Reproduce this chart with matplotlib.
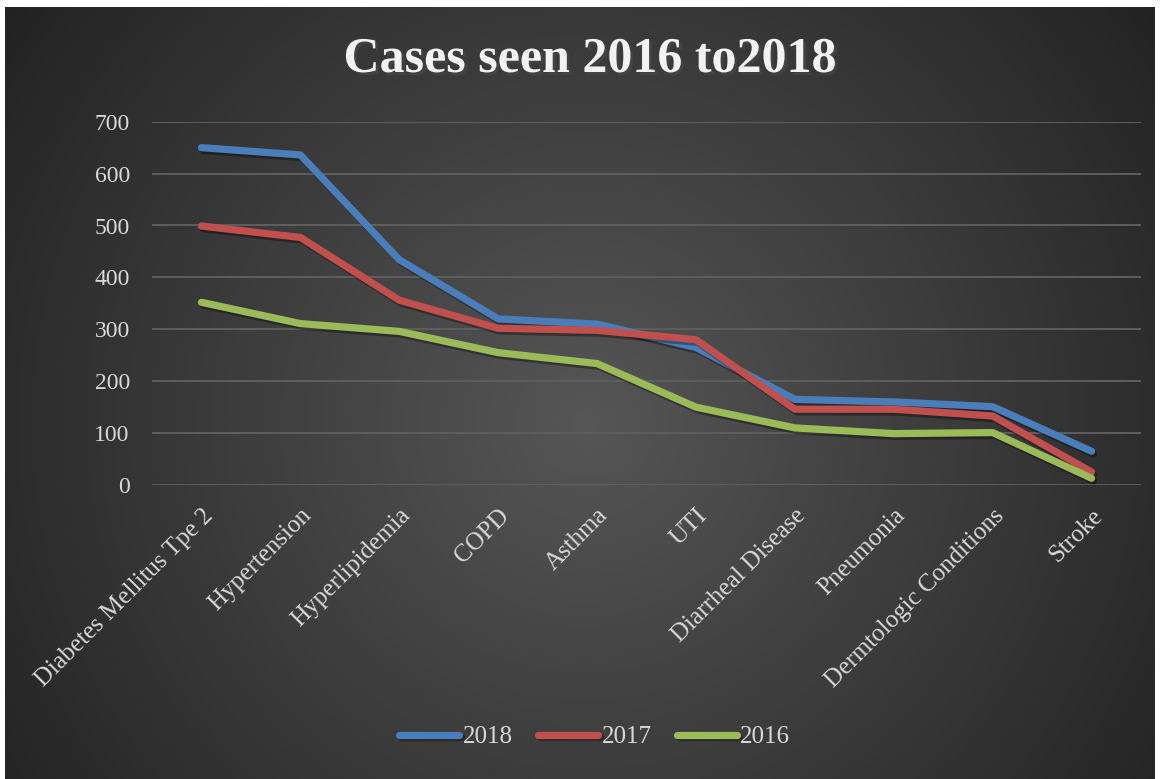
import numpy as np
import matplotlib
matplotlib.use("Agg")
import matplotlib.pyplot as plt
import matplotlib.patheffects as pe

categories = ["Diabetes Mellitus Tpe 2", "Hypertension", "Hyperlipidemia", "COPD",
              "Asthma", "UTI", "Diarrheal Disease", "Pneumonia",
              "Dermtologic Conditions", "Stroke"]
cases_2018 = [650, 636, 434, 320, 310, 265, 165, 160, 151, 65]
cases_2017 = [499, 477, 356, 302, 298, 280, 146, 146, 133, 25]
cases_2016 = [352, 311, 296, 255, 234, 150, 110, 99, 101, 13]
years = ["2018", "2017", "2016"]
colors = ["#4A7EBB", "#C0504D", "#9BBB59"]

W, H = 1166, 779
fig = plt.figure(figsize=(W / 100, H / 100), dpi=100, facecolor="white")

# radial gradient background
bg = fig.add_axes([5 / W, 0, 1150 / W, 772 / H])
yy, xx = np.mgrid[0:772, 0:1150]
d = np.sqrt((xx - 580) ** 2 + (yy - 415) ** 2)
val = 86 - 52 * np.clip(d / 720, 0, 1)
img = np.dstack([val, val, val]) / 255
bg.imshow(img, aspect="auto", interpolation="bilinear")
bg.axis("off")

ax = fig.add_axes([152 / W, 1 - 485 / H, (1141 - 152) / W, (485 - 121.7) / H])
ax.patch.set_alpha(0)

font = "Liberation Serif"
txt = "#D9D9D9"
x = np.arange(len(categories))
for vals, lab, c in zip([cases_2018, cases_2017, cases_2016], years, colors):
    ax.plot(x, vals, color=c, lw=5.2, label=lab, solid_capstyle="round",
            solid_joinstyle="round",
            path_effects=[pe.SimpleLineShadow(offset=(1.5, -2), alpha=0.35),
                          pe.Normal()])

ax.set_xlim(-0.5, len(categories) - 0.5)
ax.set_ylim(0, 700)
ax.set_yticks(range(0, 701, 100))
ax.grid(axis="y", color="#5E5E5E", lw=1.4)
ax.set_axisbelow(True)
for s in ax.spines.values():
    s.set_visible(False)
ax.tick_params(length=0, colors=txt)
ax.tick_params(axis="y", pad=16)
ax.set_xticks(x)
ax.set_xticklabels(categories, rotation=45, ha="right", rotation_mode="anchor",
                   fontfamily=font, fontsize=18, color=txt)
ax.tick_params(axis="x", pad=14)
for t in ax.get_yticklabels():
    t.set_fontfamily(font)
    t.set_fontsize(17)

fig.text(0.506, 1 - 60 / H, "Cases seen 2016 to2018", ha="center", va="center",
         fontfamily=font, fontweight="bold", fontsize=36, color="#F2F2F2",
         path_effects=[pe.SimplePatchShadow(offset=(2, -2), alpha=0.6),
                       pe.Normal()])

leg = fig.legend(loc="center", bbox_to_anchor=(0.51, 1 - 737 / H), ncol=3,
                 frameon=False, handlelength=2.4, handletextpad=0.15,
                 columnspacing=1.0, prop={"family": font, "size": 18})
for t in leg.get_texts():
    t.set_color(txt)

fig.savefig("out.png", dpi=100, facecolor="white")
